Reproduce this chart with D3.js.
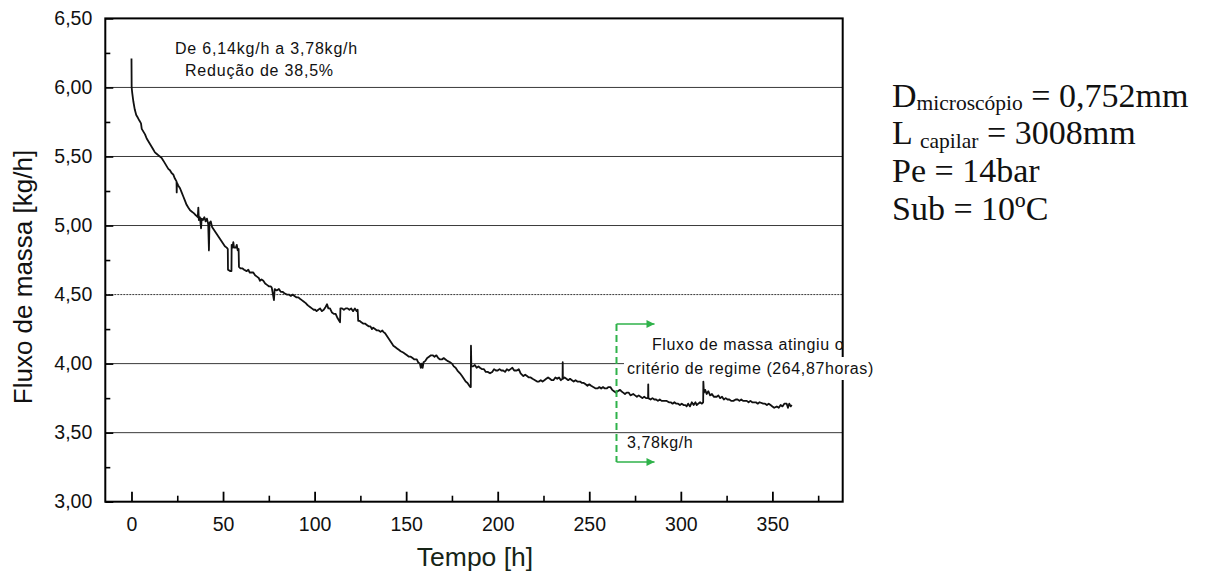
<!DOCTYPE html>
<html>
<head>
<meta charset="utf-8">
<script src="https://cdn.jsdelivr.net/npm/d3@7"></script>
<style>
  html, body { margin: 0; padding: 0; background: #fff; }
  svg { display: block; }
</style>
</head>
<body>
<svg id="chart" width="1207" height="576"></svg>
<script>
// Mass flow record of the capillary test run
const hours = [
  0, 0.1, 0.4, 1, 1.8, 2.6, 3.5, 4.3, 5.2, 5.6, 6.5, 7.4, 8.3, 9.2, 10.1, 11, 11.9, 12.8, 13.7, 14.6,
  15.5, 16.4, 17.4, 18.3, 19.2, 20.1, 21, 21.9, 22.8, 23.7, 24.6, 24.7, 24.8, 25.5, 26.5, 27.4, 28.3, 29.2, 30.1, 31,
  32, 33, 34, 34.7, 35.5, 36.2, 36.5, 36.8, 37.4, 38, 38.3, 39, 39.8, 40.5, 41.2, 41.9, 42.3, 42.6, 43.3, 44,
  45, 46, 47, 48, 49, 50, 51, 52, 52.6, 52.7, 54, 54.6, 54.7, 55.2, 55.6, 56, 57, 57.5, 58, 58.5,
  58.7, 59.5, 60.5, 61.5, 62.9, 63.8, 64.5, 65.5, 66.5, 67.5, 68.5, 69.5, 70.2, 71, 72, 73, 74, 75, 76, 76.6,
  77.8, 78.2, 79.3, 80.5, 81.5, 82.5, 83.5, 84.8, 86, 87, 88, 89, 90, 91.1, 92, 93, 94, 95, 95.7, 96.5,
  97.5, 98.5, 99.5, 100.3, 101.1, 102, 103, 104, 105, 106, 106.8, 107.5, 108.4, 109.5, 110.5, 111.5, 112.5, 113.9, 114.1, 115,
  116, 117, 118, 119, 120, 121, 122, 123, 123.5, 123.8, 124.5, 125.5, 126.5, 127.5, 128.5, 129.5, 130.5, 131.3, 132, 133,
  134, 135, 136, 137, 137.5, 138.5, 139.5, 140.5, 141.5, 142.5, 143, 144, 145, 146, 147, 148.4, 149.5, 150.5, 151.5, 152.5,
  153.5, 154.5, 155.8, 156.5, 157.5, 158, 158.5, 159, 159.5, 160.5, 161.5, 162.5, 163.5, 164.5, 165.5, 166.5, 167.5, 168.5, 169.5, 170.5,
  171.5, 172.5, 174, 175, 176, 177, 178, 179.4, 180.5, 181.5, 182.5, 183.5, 184.5, 185, 185.3, 185.4, 185.6, 186.5, 187.5, 188.5,
  189.5, 190.3, 191.5, 192.5, 193.5, 194.5, 195.8, 197, 198, 199, 200, 201, 202, 203, 204, 205, 206, 207, 208, 209,
  210.4, 211.5, 212.5, 214, 215, 216, 217, 218, 219, 220.4, 221.5, 222.5, 223.5, 224.5, 225.5, 226.5, 227.5, 228.5, 229.5, 230.4,
  231.5, 232.5, 233.5, 234.5, 235.4, 235.5, 235.6, 236.5, 237.5, 238.5, 239.5, 240.5, 241.5, 242.5, 243.5, 245, 246, 247, 248, 249,
  250, 251, 252.2, 253.5, 254.5, 255.5, 256.5, 257.5, 258.5, 259.5, 260.5, 261.5, 262.5, 263.5, 264.5, 265.5, 266.8, 267.5, 268.5, 269.5,
  270.4, 271.5, 272.5, 274, 275, 276, 277, 278, 279, 280, 281, 282.1, 282.2, 282.3, 283.5, 284.5, 285.5, 286.5, 287.5, 288.5,
  289.5, 290.5, 292.3, 293.5, 294.5, 295.5, 296.5, 297.5, 298.5, 299.5, 300.5, 301.5, 302.5, 303.2, 304, 305, 306, 307, 308, 308.7,
  309.5, 310.5, 311.5, 312.2, 312.3, 312.6, 313.3, 314.1, 315, 316, 317, 318, 319.6, 320.5, 321.5, 322.5, 323.5, 324.5, 325.5, 326.5,
  327.5, 328.7, 330, 331, 332, 333, 334, 336, 337, 338, 339, 340, 341, 342, 343, 345, 346, 347, 348, 349,
  350, 351, 352.4, 353.5, 354.5, 355.5, 356.5, 357.8, 358.5, 359.2, 360, 360.6
];
const flux = [
  6.21, 6.00, 5.96, 5.90, 5.84, 5.80, 5.78, 5.76, 5.74, 5.70, 5.68, 5.66, 5.63, 5.61, 5.59, 5.57, 5.55, 5.53, 5.52, 5.51,
  5.50, 5.49, 5.47, 5.45, 5.43, 5.41, 5.40, 5.38, 5.37, 5.34, 5.32, 5.24, 5.31, 5.29, 5.27, 5.24, 5.21, 5.18, 5.15, 5.13,
  5.11, 5.10, 5.09, 5.08, 5.07, 5.06, 5.13, 5.04, 5.06, 4.98, 5.05, 5.04, 5.06, 5.03, 5.05, 5.01, 4.82, 5.02, 5.03, 4.99,
  4.97, 4.95, 4.93, 4.91, 4.89, 4.87, 4.85, 4.84, 4.83, 4.68, 4.67, 4.67, 4.86, 4.84, 4.88, 4.84, 4.84, 4.86, 4.82, 4.83,
  4.70, 4.69, 4.69, 4.68, 4.67, 4.68, 4.66, 4.66, 4.66, 4.64, 4.63, 4.62, 4.60, 4.61, 4.60, 4.58, 4.57, 4.56, 4.56, 4.55,
  4.46, 4.54, 4.53, 4.54, 4.52, 4.52, 4.51, 4.50, 4.50, 4.49, 4.50, 4.49, 4.48, 4.48, 4.47, 4.46, 4.45, 4.44, 4.43, 4.42,
  4.41, 4.40, 4.39, 4.39, 4.38, 4.39, 4.40, 4.38, 4.39, 4.41, 4.43, 4.40, 4.40, 4.37, 4.36, 4.36, 4.33, 4.30, 4.40, 4.40,
  4.39, 4.40, 4.40, 4.39, 4.40, 4.38, 4.40, 4.38, 4.39, 4.31, 4.31, 4.30, 4.29, 4.29, 4.28, 4.27, 4.27, 4.25, 4.26, 4.25,
  4.24, 4.24, 4.23, 4.24, 4.23, 4.22, 4.20, 4.18, 4.16, 4.14, 4.13, 4.12, 4.11, 4.10, 4.09, 4.08, 4.07, 4.06, 4.05, 4.05,
  4.04, 4.03, 4.03, 4.01, 4.00, 3.97, 4.00, 3.97, 4.01, 4.02, 4.04, 4.05, 4.06, 4.06, 4.05, 4.06, 4.04, 4.03, 4.03, 4.04,
  4.03, 4.02, 4.01, 4.00, 3.98, 3.97, 3.95, 3.93, 3.91, 3.89, 3.87, 3.86, 3.84, 3.83, 3.83, 4.13, 3.98, 3.98, 3.99, 3.97,
  3.98, 3.97, 3.96, 3.96, 3.94, 3.94, 3.93, 3.94, 3.96, 3.95, 3.95, 3.96, 3.95, 3.95, 3.94, 3.96, 3.95, 3.96, 3.97, 3.95,
  3.95, 3.96, 3.93, 3.91, 3.92, 3.91, 3.90, 3.90, 3.89, 3.88, 3.87, 3.87, 3.88, 3.87, 3.88, 3.89, 3.90, 3.89, 3.88, 3.88,
  3.90, 3.89, 3.90, 3.88, 3.89, 4.01, 3.89, 3.90, 3.89, 3.88, 3.89, 3.88, 3.87, 3.88, 3.87, 3.87, 3.86, 3.86, 3.85, 3.84,
  3.85, 3.84, 3.83, 3.82, 3.82, 3.83, 3.82, 3.83, 3.82, 3.82, 3.83, 3.83, 3.81, 3.80, 3.79, 3.80, 3.81, 3.80, 3.79, 3.78,
  3.79, 3.79, 3.77, 3.78, 3.77, 3.76, 3.77, 3.76, 3.75, 3.76, 3.75, 3.75, 3.85, 3.75, 3.74, 3.75, 3.74, 3.74, 3.73, 3.74,
  3.73, 3.73, 3.73, 3.72, 3.72, 3.71, 3.72, 3.71, 3.71, 3.70, 3.71, 3.70, 3.70, 3.69, 3.71, 3.69, 3.72, 3.70, 3.72, 3.70,
  3.71, 3.72, 3.71, 3.72, 3.87, 3.79, 3.81, 3.78, 3.80, 3.77, 3.78, 3.76, 3.76, 3.77, 3.75, 3.76, 3.74, 3.75, 3.74, 3.74,
  3.73, 3.73, 3.74, 3.74, 3.73, 3.74, 3.73, 3.73, 3.72, 3.73, 3.72, 3.72, 3.72, 3.71, 3.72, 3.71, 3.71, 3.70, 3.71, 3.70,
  3.69, 3.68, 3.69, 3.68, 3.70, 3.69, 3.71, 3.71, 3.68, 3.71, 3.69, 3.70
];

const xMajorTicks = [0, 50, 100, 150, 200, 250, 300, 350];
const xMinorTicks = [25, 75, 125, 175, 225, 275, 325, 375];
const yMajorTicks = [3.0, 3.5, 4.0, 4.5, 5.0, 5.5, 6.0, 6.5];
const yMinorTicks = [3.25, 3.75, 4.25, 4.75, 5.25, 5.75, 6.25];
const gridLevels = [3.5, 4.0, 4.5, 5.0, 5.5, 6.0];

const steadyHour = 264.87;
const startFlux = 6.14;
const endFlux = 3.78;

const svg = d3.select("#chart");
const plotLeft = 105.3, plotRight = 842.7, plotTop = 18.4, plotBottom = 501.7;

const x = d3.scaleLinear().domain([-14.3, 388.4]).range([plotLeft, plotRight]);
const y = d3.scaleLinear().domain([3.0, 6.5]).range([plotBottom, plotTop]);
const fmt = v => d3.format(".2f")(v).replace(".", ",");

// horizontal grid
svg.append("g").selectAll("line").data(gridLevels).join("line")
  .attr("x1", plotLeft).attr("x2", plotRight)
  .attr("y1", d => y(d)).attr("y2", d => y(d))
  .attr("stroke", "#3a3a3a").attr("stroke-width", 1)
  .attr("stroke-dasharray", d => d === 4.5 ? "2,1" : null);

// minor ticks
svg.append("g").attr("transform", `translate(0,${plotBottom})`)
  .call(d3.axisBottom(x).tickValues(xMinorTicks).tickSize(-6).tickFormat(""))
  .call(g => g.select(".domain").remove())
  .selectAll("line").attr("stroke-width", 1.6);
svg.append("g").attr("transform", `translate(${plotLeft},0)`)
  .call(d3.axisLeft(y).tickValues(yMinorTicks).tickSize(-5).tickFormat(""))
  .call(g => g.select(".domain").remove())
  .selectAll("line").attr("stroke-width", 1.6);

// major axes
const xAxis = svg.append("g").attr("transform", `translate(0,${plotBottom})`)
  .call(d3.axisBottom(x).tickValues(xMajorTicks).tickSizeInner(-10).tickSizeOuter(0).tickPadding(15));
xAxis.select(".domain").remove();
xAxis.selectAll("line").attr("stroke-width", 1.8);
xAxis.selectAll("text").attr("font-family", "Liberation Sans, Arial, sans-serif")
  .attr("font-size", 19.5).attr("fill", "#111");

const yAxis = svg.append("g").attr("transform", `translate(${plotLeft},0)`)
  .call(d3.axisLeft(y).tickValues(yMajorTicks).tickSizeInner(-8).tickSizeOuter(0).tickPadding(13).tickFormat(fmt));
yAxis.select(".domain").remove();
yAxis.selectAll("line").attr("stroke-width", 1.6);
yAxis.selectAll("text").attr("font-family", "Liberation Sans, Arial, sans-serif")
  .attr("font-size", 19.5).attr("fill", "#111");

// data trace
const series = hours.map((h, i) => [h, flux[i]]);
svg.append("path").datum(series)
  .attr("fill", "none").attr("stroke", "#111").attr("stroke-width", 1.8)
  .attr("stroke-linejoin", "round")
  .attr("d", d3.line().x(d => x(d[0])).y(d => y(d[1])));

// frame
svg.append("rect")
  .attr("x", plotLeft).attr("y", plotTop).attr("width", plotRight - plotLeft).attr("height", plotBottom - plotTop)
  .attr("fill", "none").attr("stroke", "#000").attr("stroke-width", 2);

// axis titles
svg.append("text")
  .attr("transform", `translate(32,${(plotTop + plotBottom) / 2 + 17}) rotate(-90)`)
  .attr("text-anchor", "middle")
  .attr("font-family", "Liberation Sans, Arial, sans-serif").attr("font-size", 26).attr("fill", "#111")
  .text("Fluxo de massa [kg/h]");
svg.append("text")
  .attr("x", 475).attr("y", 566).attr("text-anchor", "middle")
  .attr("font-family", "Liberation Sans, Arial, sans-serif").attr("font-size", 26.5).attr("fill", "#162416")
  .text("Tempo [h]");

// reduction note
const note = svg.append("g")
  .attr("font-family", "Liberation Sans, Arial, sans-serif").attr("font-size", 16)
  .attr("fill", "#111").attr("letter-spacing", 0.8);
note.append("text").attr("x", 175).attr("y", 53.5)
  .text(`De ${fmt(startFlux)}kg/h a ${fmt(endFlux)}kg/h`);
note.append("text").attr("x", 185).attr("y", 76)
  .text("Redução de 38,5%");

// steady-state marker
const green = "#2fb24a";
const xs = x(steadyHour);
const yTop = 324, yBot = 462;
svg.append("defs").append("marker")
  .attr("id", "arrow").attr("viewBox", "0 0 10 10").attr("refX", 10).attr("refY", 5)
  .attr("markerWidth", 10).attr("markerHeight", 8).attr("markerUnits", "userSpaceOnUse")
  .attr("orient", "auto")
  .append("path").attr("d", "M0,0 L10,5 L0,10 Z").attr("fill", green);
svg.append("line")
  .attr("x1", xs).attr("x2", xs).attr("y1", yTop).attr("y2", yBot)
  .attr("stroke", green).attr("stroke-width", 2).attr("stroke-dasharray", "7,4");
[yTop, yBot].forEach(yy => {
  svg.append("line")
    .attr("x1", xs).attr("x2", xs + 38).attr("y1", yy).attr("y2", yy)
    .attr("stroke", green).attr("stroke-width", 1.6).attr("marker-end", "url(#arrow)");
});

const steadyNote = svg.append("g")
  .attr("font-family", "Liberation Sans, Arial, sans-serif").attr("font-size", 16)
  .attr("fill", "#111").attr("letter-spacing", 0.6);
steadyNote.append("rect")
  .attr("x", 624).attr("y", 357).attr("width", 262).attr("height", 23).attr("fill", "#fff");
steadyNote.append("text").attr("x", 652).attr("y", 350)
  .text("Fluxo de massa atingiu o");
steadyNote.append("text").attr("x", 627).attr("y", 374)
  .text(`critério de regime (${d3.format(".2f")(steadyHour).replace(".", ",")}horas)`);
steadyNote.append("text").attr("x", 627).attr("y", 448)
  .text(`${fmt(endFlux)}kg/h`);

// test conditions
const cond = svg.append("g")
  .attr("font-family", "Liberation Serif, 'Times New Roman', serif").attr("font-size", 34).attr("fill", "#111");
const l1 = cond.append("text").attr("x", 892).attr("y", 107);
l1.append("tspan").text("D");
l1.append("tspan").attr("font-size", 21.5).attr("dy", 3).text("microscópio");
l1.append("tspan").attr("dy", -3).text(" = 0,752mm");
const l2 = cond.append("text").attr("x", 892).attr("y", 144);
l2.append("tspan").text("L ");
l2.append("tspan").attr("font-size", 21.5).attr("dy", 4).text("capilar");
l2.append("tspan").attr("dy", -4).text(" = 3008mm");
cond.append("text").attr("x", 892).attr("y", 182).text("Pe = 14bar");
cond.append("text").attr("x", 892).attr("y", 219.5).text("Sub = 10ºC");
</script>
</body>
</html>
